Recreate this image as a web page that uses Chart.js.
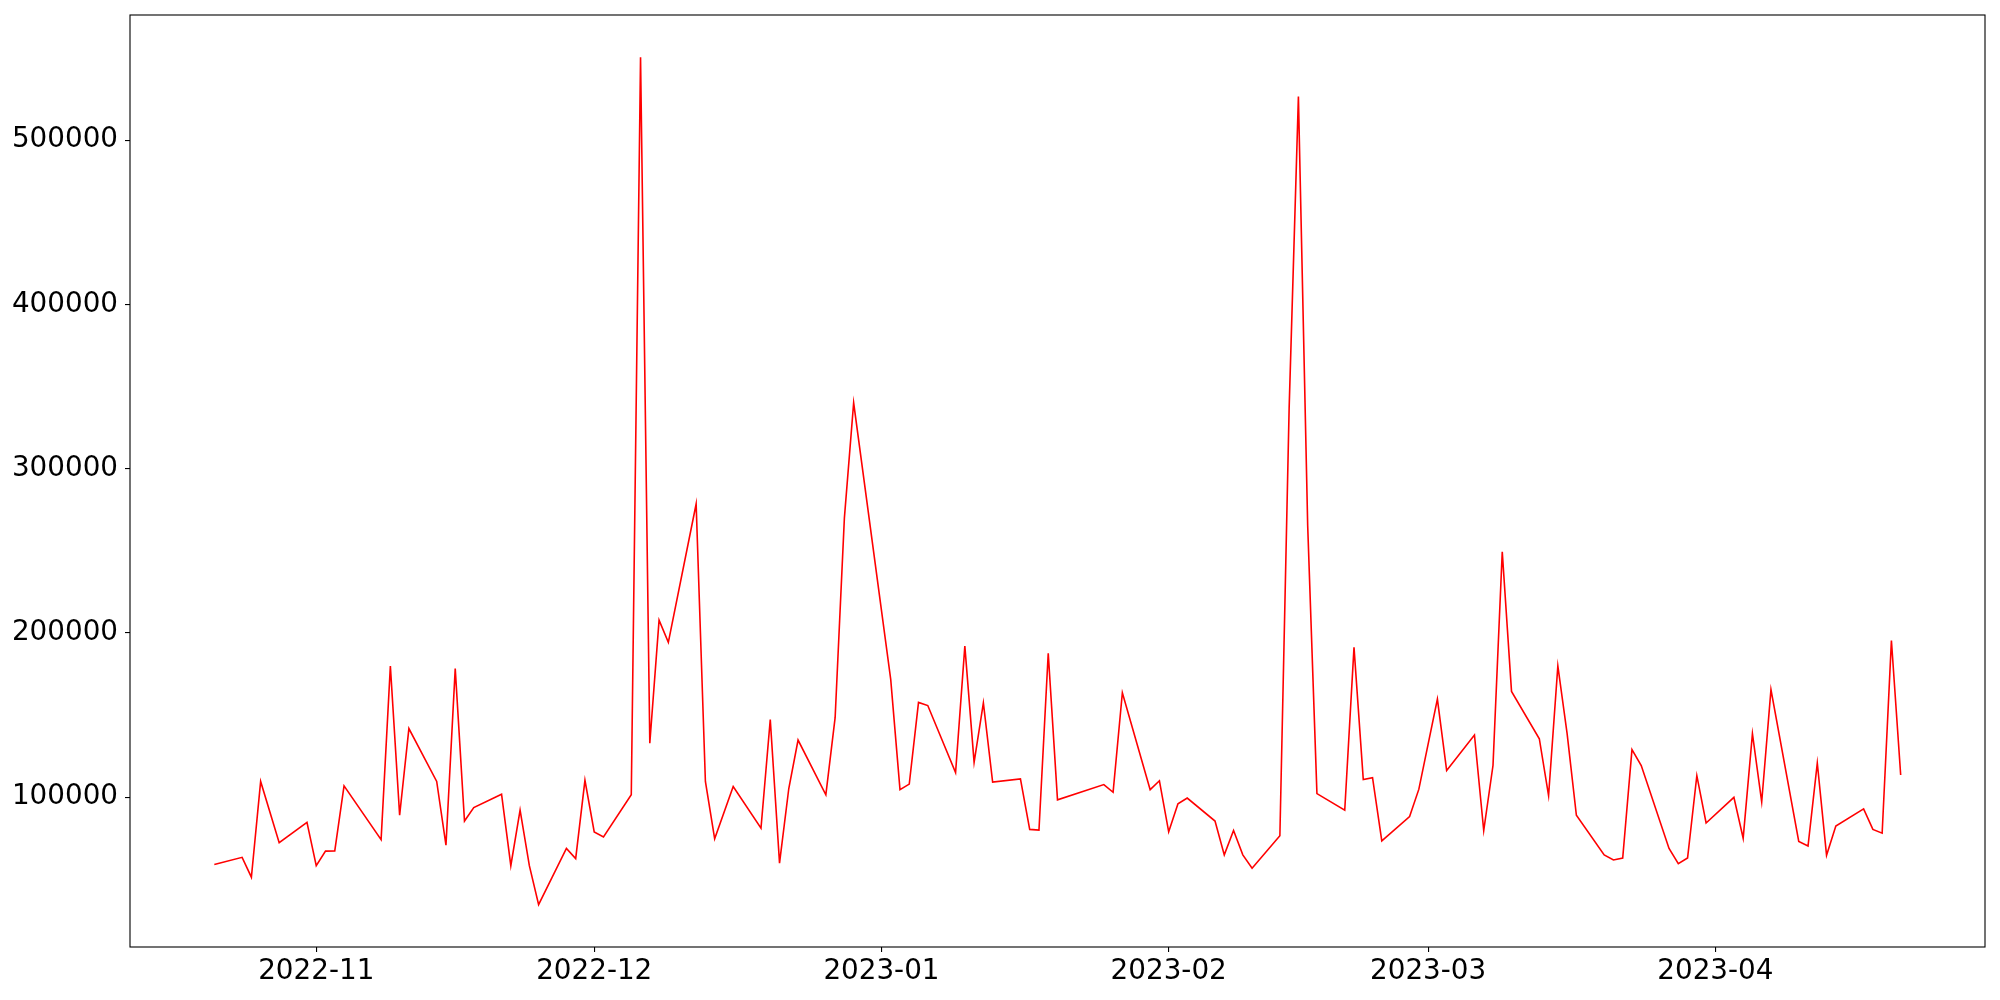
<!DOCTYPE html>
<html>
<head>
<meta charset="utf-8">
<script src="https://cdn.jsdelivr.net/npm/chart.js@4/dist/chart.umd.min.js"></script>
<style>
  html, body { margin: 0; padding: 0; background: #ffffff; }
  #wrap { width: 2000px; height: 1000px; }
</style>
</head>
<body>
<div id="wrap"><canvas id="c" width="2000" height="1000"></canvas></div>
<script>
// ---- data ----
const dates = [
  '2022-10-21','2022-10-24','2022-10-25','2022-10-26','2022-10-28','2022-10-31',
  '2022-11-01','2022-11-02','2022-11-03','2022-11-04','2022-11-08','2022-11-09','2022-11-10','2022-11-11',
  '2022-11-14','2022-11-15','2022-11-16','2022-11-17','2022-11-18','2022-11-21','2022-11-22','2022-11-23',
  '2022-11-24','2022-11-25','2022-11-28','2022-11-29','2022-11-30',
  '2022-12-01','2022-12-02','2022-12-05','2022-12-06','2022-12-07','2022-12-08','2022-12-09','2022-12-12',
  '2022-12-13','2022-12-14','2022-12-16','2022-12-19','2022-12-20','2022-12-21','2022-12-22','2022-12-23',
  '2022-12-26','2022-12-27','2022-12-28','2022-12-29',
  '2023-01-02','2023-01-03','2023-01-04','2023-01-05','2023-01-06','2023-01-09','2023-01-10','2023-01-11',
  '2023-01-12','2023-01-13','2023-01-16','2023-01-17','2023-01-18','2023-01-19','2023-01-20','2023-01-25',
  '2023-01-26','2023-01-27','2023-01-30','2023-01-31',
  '2023-02-01','2023-02-02','2023-02-03','2023-02-06','2023-02-07','2023-02-08','2023-02-09','2023-02-10',
  '2023-02-13','2023-02-14','2023-02-15','2023-02-16','2023-02-17','2023-02-20','2023-02-21','2023-02-22',
  '2023-02-23','2023-02-24','2023-02-27','2023-02-28',
  '2023-03-02','2023-03-03','2023-03-06','2023-03-07','2023-03-08','2023-03-09','2023-03-10','2023-03-13',
  '2023-03-14','2023-03-15','2023-03-16','2023-03-17','2023-03-20','2023-03-21','2023-03-22','2023-03-23',
  '2023-03-24','2023-03-27','2023-03-28','2023-03-29','2023-03-30','2023-03-31',
  '2023-04-03','2023-04-04','2023-04-05','2023-04-06','2023-04-07','2023-04-10','2023-04-11','2023-04-12',
  '2023-04-13','2023-04-14','2023-04-17','2023-04-18','2023-04-19','2023-04-20','2023-04-21'
];
const values = [
  59000, 63400, 51300, 109600, 72300, 84700,
  58300, 67200, 67300, 106900, 74200, 179900, 89000, 141800,
  109600, 70800, 178300, 85500, 93700, 101800, 58300, 92100,
  58300, 34600, 68800, 62600, 110300,
  78900, 75800, 101500, 550400, 132900, 207800, 194300, 278500,
  109600, 74700, 106500, 81200, 147300, 59900, 105300, 134800,
  101500, 148400, 270000, 340100,
  171700, 104600, 108000, 157700, 155800, 115000, 192000, 121200,
  157400, 109200, 111100, 80400, 80000, 187600, 98400, 107700,
  103000, 163600, 104600, 110000,
  78900, 96000, 99500, 85500, 64900, 79700, 64900, 56800,
  76500, 336900, 526500, 265600, 102200, 92100, 191200, 110800,
  111900, 73400, 88200, 104900,
  159700, 116200, 137900, 79700, 119300, 249400, 164400, 135600,
  101000, 179900, 138700, 89000, 64900, 61800, 63000, 129000,
  119300, 68800, 59500, 63000, 113100, 84300,
  99900, 75000, 138700, 97100, 165500, 73100, 70300, 120800,
  64600, 82400, 92900, 80400, 78100, 195400, 113500
];
const xTickLabels = ['2022-11', '2022-12', '2023-01', '2023-02', '2023-03', '2023-04'];
const yTickValues = [100000, 200000, 300000, 400000, 500000];
// ---------------------------------------

const toMs = s => { const p = s.split('-').map(Number); return Date.UTC(p[0], p[1] - 1, p[2] || 1); };
const points = dates.map((d, i) => ({ x: toMs(d), y: values[i] }));
const xTickValues = xTickLabels.map(toMs);

const xs = points.map(p => p.x), ys = points.map(p => p.y);
const xMinD = Math.min(...xs), xMaxD = Math.max(...xs);
const yMinD = Math.min(...ys), yMaxD = Math.max(...ys);
const xPad = (xMaxD - xMinD) * 0.05, yPad = (yMaxD - yMinD) * 0.05;

const fmtMonth = v => {
  const d = new Date(v);
  return d.getUTCFullYear() + '-' + String(d.getUTCMonth() + 1).padStart(2, '0');
};

const frame = {
  id: 'frame',
  afterDraw(chart) {
    const a = chart.chartArea, ctx = chart.ctx;
    ctx.save();
    ctx.strokeStyle = '#000';
    ctx.lineWidth = 1.1;
    ctx.strokeRect(a.left, a.top, a.right - a.left, a.bottom - a.top);
    ctx.restore();
  }
};

const FONT = { family: 'DejaVu Sans', size: 27.8 };

new Chart(document.getElementById('c'), {
  type: 'line',
  data: {
    datasets: [{
      data: points,
      borderColor: '#ff0000',
      borderWidth: 1.6,
      pointRadius: 0,
      tension: 0,
      fill: false
    }]
  },
  options: {
    responsive: false,
    animation: false,
    layout: { padding: { top: 15, right: 15, left: 0, bottom: 0 } },
    plugins: { legend: { display: false }, tooltip: { enabled: false } },
    scales: {
      x: {
        type: 'linear',
        min: xMinD - xPad,
        max: xMaxD + xPad,
        afterBuildTicks: s => { s.ticks = xTickValues.map(v => ({ value: v })); },
        afterFit: s => { s.height = 53; s.paddingLeft = 0; s.paddingRight = 0; },
        ticks: {
          callback: v => fmtMonth(v),
          color: '#000',
          font: FONT,
          padding: 3,
          maxRotation: 0,
          autoSkip: false
        },
        grid: { drawOnChartArea: false, drawTicks: true, tickLength: 5, color: '#000', lineWidth: 1.1 },
        border: { display: false }
      },
      y: {
        type: 'linear',
        min: yMinD - yPad,
        max: yMaxD + yPad,
        afterBuildTicks: s => { s.ticks = yTickValues.map(v => ({ value: v })); },
        afterFit: s => { s.width = 130; s.paddingTop = 0; s.paddingBottom = 0; },
        ticks: {
          callback: v => String(v),
          color: '#000',
          font: FONT,
          padding: 7,
          autoSkip: false
        },
        grid: { drawOnChartArea: false, drawTicks: true, tickLength: 5, color: '#000', lineWidth: 1.1 },
        border: { display: false }
      }
    }
  },
  plugins: [frame]
});
</script>
</body>
</html>
